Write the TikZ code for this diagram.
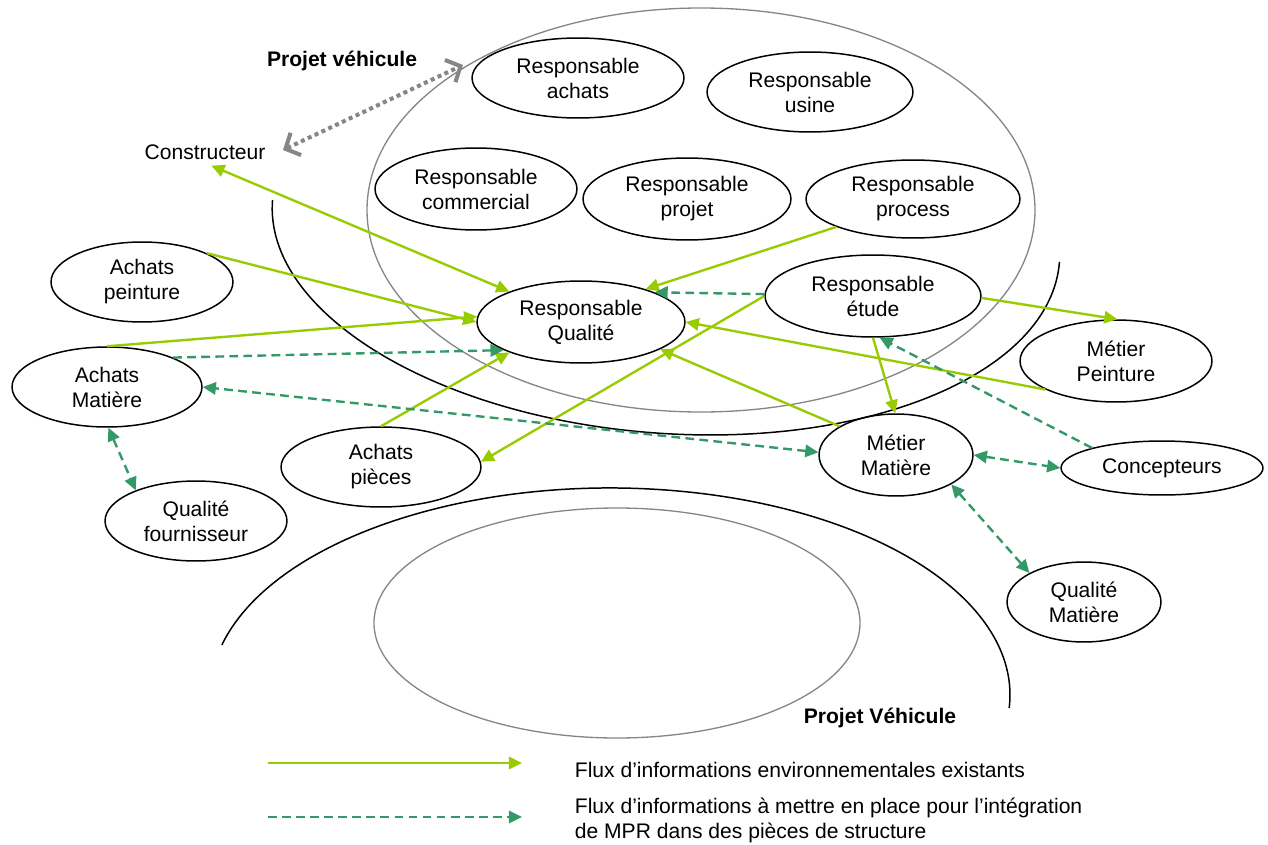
\documentclass[tikz,border=0pt]{standalone}
\usepackage{fontspec}
\setmainfont{Liberation Sans}
\usetikzlibrary{shapes.geometric,arrows.meta}
\definecolor{lgreen}{RGB}{153,204,0}
\definecolor{dgreen}{RGB}{51,153,102}
\definecolor{lgray}{RGB}{134,134,134}
\begin{document}
\begin{tikzpicture}[x=0.02cm,y=0.02cm,
  every node/.style={font=\fontsize{12}{14.2}\selectfont},
  ell/.style 2 args={ellipse, draw=black, line width=0.85pt, inner sep=0pt, align=center,
    minimum width=#1*0.04cm, minimum height=#2*0.04cm},
  lbl/.style={inner sep=2pt, align=left},
  tri/.tip={Triangle[length=7.5pt,width=7pt]},
  solidflow/.style={draw=lgreen, line width=1.35pt, -tri},
  solidboth/.style={draw=lgreen, line width=1.35pt, tri-tri},
  dashflow/.style={draw=dgreen, line width=1.35pt, dash pattern=on 5pt off 3pt, -tri},
  dashboth/.style={draw=dgreen, line width=1.35pt, dash pattern=on 5pt off 3pt, tri-tri},
  gdot/.style={draw=lgray, line width=2.3pt, dash pattern=on 2.3pt off 2pt,
    {Straight Barb[length=6.5pt,width=14pt]}-{Straight Barb[length=6.5pt,width=14pt]}},
  grayring/.style={draw=lgray, line width=0.75pt},
  blackring/.style={draw=black, line width=0.85pt}
]
\useasboundingbox[fill=white] (0,0) rectangle (1268,-845);

% big outlines
\draw[grayring] (701,-210) ellipse [x radius=334, y radius=202];
\draw[blackring, rotate around={-4.5:(666,-231)}] (666,-231) ++(180:394.7 and 202.2)
  arc [start angle=180, end angle=360, x radius=394.7, y radius=202.2];
\draw[blackring] (610,-695) ++(166:400 and 207) arc [start angle=166, end angle=-3.6, x radius=400, y radius=207];
\draw[grayring] (617,-623) ellipse [x radius=243, y radius=115];

% labels
\node[font=\fontsize{12}{14.2}\selectfont\bfseries] (pv1) at (342,-61) {Projet véhicule};
\node[font=\fontsize{12}{14.2}\selectfont\bfseries] (pv2) at (880,-718) {Projet Véhicule};
\node (cons) at (205,-152) {Constructeur};

% nodes
\node[ell={106}{40}] (ach) at (578,-78) {Responsable\\achats};
\node[ell={103}{40}] (usi) at (810,-92) {Responsable\\usine};
\node[ell={101}{41}] (com) at (476,-189) {Responsable\\commercial};
\node[ell={104}{41}] (prj) at (687,-199) {Responsable\\projet};
\node[ell={107}{39}] (pro) at (913,-199) {Responsable\\process};
\node[ell={104}{41}] (qua) at (581,-322) {Responsable\\Qualité};
\node[ell={108}{41}] (etu) at (873,-296) {Responsable\\étude};
\node[ell={91}{40}] (ape) at (142,-282) {Achats\\peinture};
\node[ell={95}{40}] (ama) at (107,-387) {Achats\\Matière};
\node[ell={100}{40}] (api) at (381,-467) {Achats\\pièces};
\node[ell={91}{40}] (qfo) at (196,-521) {Qualité\\fournisseur};
\node[ell={96}{41}] (mpe) at (1116,-361) {Métier\\Peinture};
\node[ell={77}{41}] (mma) at (896,-455) {Métier\\Matière};
\node[ell={101}{27}] (con) at (1162,-468) {Concepteurs};
\node[ell={77}{40}] (qma) at (1084,-602) {Qualité\\Matière};

% gray dotted link
\coordinate (gA) at (283,-150);
\coordinate (gB) at (463,-65);
\draw[gdot] (gA) -- (gB);

% solid flows
\draw[solidboth] (cons.-65) -- (qua.157);
\draw[solidflow] (ape.24) -- (qua.180);
\draw[solidflow] (ama.90) -- (qua.177);
\draw[solidflow] (api.90) -- (qua.203);
\draw[solidflow] (etu.180) -- (api.3);
\draw[solidflow] (pro.200) -- (qua.27);
\draw[solidflow] (etu.-1) -- (mpe.88);
\draw[solidflow] (mpe.202) -- (qua.0);
\draw[solidflow] (mma.153) -- (qua.341);
\draw[solidflow] (etu.270) -- (mma.91);

% dashed flows
\draw[dashflow] (ama.24) -- (qua.200);
\draw[dashboth] (mma.178) -- (ama.0);
\draw[dashboth] (ama.-88) -- (qfo.153);
\draw[dashflow] (etu.179) -- (qua.22);
\draw[dashflow] (con.164) -- (etu.-81);
\draw[dashboth] (mma.0) -- (con.180);
\draw[dashboth] (mma.-28) -- (qma.152);

% legend
\coordinate (la1) at (268,-763);
\coordinate (lb1) at (522,-763);
\coordinate (la2) at (268,-817);
\coordinate (lb2) at (522,-817);
\draw[solidflow] (la1) -- (lb1);
\draw[dashflow] (la2) -- (lb2);
\node[lbl, anchor=west] (lt1) at (571,-770) {Flux d’informations environnementales existants};
\node[lbl, anchor=west] (lt2) at (571,-820) {Flux d’informations à mettre en place pour l’intégration\\de MPR dans des pièces de structure};
\end{tikzpicture}
\end{document}
